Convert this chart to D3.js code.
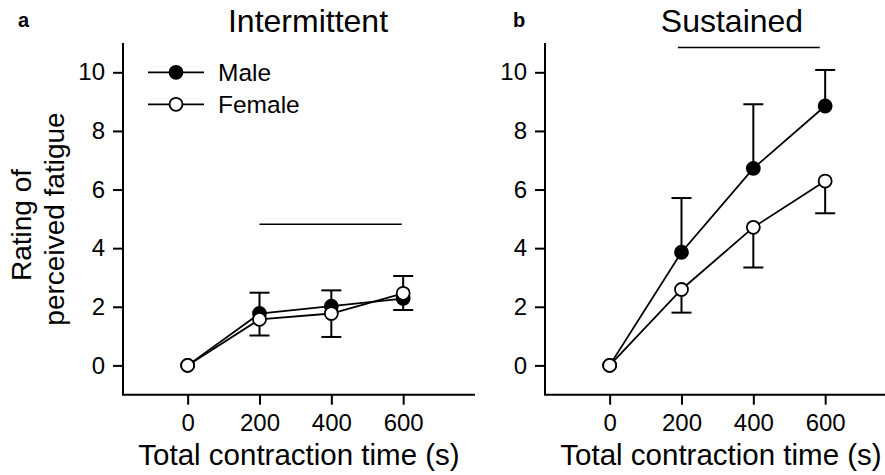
<!DOCTYPE html>
<html>
<head>
<meta charset="utf-8">
<script src="https://cdn.jsdelivr.net/npm/d3@7"></script>
<style>
  body { margin: 0; background: #fff; }
  svg { display: block; font-family: "Liberation Sans", Arial, sans-serif; }
  .axis path, .axis line { stroke: #000; stroke-width: 2; }
  .axis text { font-size: 24px; fill: #000; font-family: "Liberation Sans", Arial, sans-serif; }
</style>
</head>
<body>
<div id="chart"></div>
<script>
// time points (s)
const times = [0, 200, 400, 600]

// Intermittent
const intMale = [0, 1.77, 2.02, 2.28]
const intMaleSd = [0, 0.71, 0.54, -0.39]
const intFemale = [0, 1.57, 1.77, 2.46]
const intFemaleSd = [0, -0.55, -0.8, 0.59]
const intSigLine = [[200, 4.82], [596, 4.82]]

// Sustained
const susMale = [0, 3.86, 6.72, 8.85]
const susMaleSd = [0, 1.85, 2.19, 1.23]
const susFemale = [0, 2.59, 4.71, 6.29]
const susFemaleSd = [0, -0.79, -1.37, -1.1]
const susSigLine = [[190, 10.85], [585, 10.85]]

const xTicks = [0, 200, 400, 600]
const yTicks = [0, 2, 4, 6, 8, 10]
const legendLabels = ["Male", "Female"]

const width = 885
const height = 475

const svg = d3.select("#chart").append("svg")
    .attr("width", width)
    .attr("height", height)

const panels = [
  { letter: "a", title: "Intermittent", left: 123, right: 475, titleX: 308, letterX: 18,
    male: intMale, maleSd: intMaleSd, female: intFemale, femaleSd: intFemaleSd,
    sig: intSigLine, legend: true, yLabel: true },
  { letter: "b", title: "Sustained", left: 545, right: 897, titleX: 732, letterX: 513,
    male: susMale, maleSd: susMaleSd, female: susFemale, femaleSd: susFemaleSd,
    sig: susSigLine, legend: false, yLabel: false }
]

const plotTop = 43
const plotBottom = 394.7

const yScale = d3.scaleLinear()
  .domain([-1, 11])
  .range([plotBottom, plotTop])

panels.forEach(p => {
  const xScale = d3.scaleLinear()
    .domain([-180, 800])
    .range([p.left, p.right])

  const g = svg.append("g")

  // panel letter
  g.append("text")
      .attr("x", p.letterX)
      .attr("y", 27)
      .style("font-size", "20px")
      .style("font-weight", "bold")
      .text(p.letter)

  // title
  g.append("text")
      .attr("x", p.titleX)
      .attr("y", 32)
      .attr("text-anchor", "middle")
      .style("font-size", "32px")
      .text(p.title)

  // axes
  const yAxis = g.append("g")
      .attr("class", "axis")
      .attr("transform", `translate(${p.left},0)`)
      .call(d3.axisLeft(yScale).tickValues(yTicks).tickSizeInner(10).tickSizeOuter(0).tickPadding(8))
  yAxis.select(".domain").attr("d", `M0,${plotTop}V${plotBottom}`)

  const xAxis = g.append("g")
      .attr("class", "axis")
      .attr("transform", `translate(0,${plotBottom})`)
      .call(d3.axisBottom(xScale).tickValues(xTicks).tickSizeInner(10).tickSizeOuter(0).tickPadding(9))
  xAxis.select(".domain").attr("d", `M${p.left - 1},0H${p.right}`)

  g.append("text")
      .attr("x", (p.left + p.right) / 2)
      .attr("y", 465)
      .attr("text-anchor", "middle")
      .style("font-size", "29.5px")
      .text("Total contraction time (s)")

  if (p.yLabel) {
    const yl = g.append("text")
        .attr("transform", `rotate(-90)`)
        .attr("text-anchor", "middle")
        .style("font-size", "28px")
    yl.append("tspan").attr("x", -225).attr("y", 31).text("Rating of")
    yl.append("tspan").attr("x", -219).attr("y", 64).text("perceived fatigue")
  }

  // significance line
  g.append("line")
      .attr("x1", xScale(p.sig[0][0]))
      .attr("x2", xScale(p.sig[1][0]))
      .attr("y1", yScale(p.sig[0][1]))
      .attr("y2", yScale(p.sig[1][1]))
      .attr("stroke", "#000")
      .attr("stroke-width", 1.5)

  const series = [
    { values: p.male, sd: p.maleSd, fill: "#000" },
    { values: p.female, sd: p.femaleSd, fill: "#fff" }
  ]

  const line = d3.line()
    .x((d, i) => xScale(times[i]))
    .y(d => yScale(d))

  // error bars
  series.forEach(s => {
    const eb = g.append("g")
    times.forEach((t, i) => {
      if (s.sd[i] === 0) return
      const x = xScale(t)
      const yEnd = yScale(s.values[i] + s.sd[i])
      eb.append("line")
          .attr("x1", x).attr("x2", x)
          .attr("y1", yScale(s.values[i])).attr("y2", yEnd)
          .attr("stroke", "#000").attr("stroke-width", 2)
      eb.append("line")
          .attr("x1", x - 10).attr("x2", x + 10)
          .attr("y1", yEnd).attr("y2", yEnd)
          .attr("stroke", "#000").attr("stroke-width", 2)
    })
  })

  // lines
  series.forEach(s => {
    g.append("path")
        .attr("d", line(s.values))
        .attr("fill", "none")
        .attr("stroke", "#000")
        .attr("stroke-width", 1.8)
  })

  // markers, female drawn last
  series.forEach(s => {
    g.selectAll(null)
      .data(s.values)
      .join("circle")
        .attr("cx", (d, i) => xScale(times[i]))
        .attr("cy", d => yScale(d))
        .attr("r", 6.5)
        .attr("fill", s.fill)
        .attr("stroke", "#000")
        .attr("stroke-width", 1.8)
  })

  // legend
  if (p.legend) {
    const lg = g.append("g")
    const rows = [{ y: 72.3, fill: "#000" }, { y: 104.3, fill: "#fff" }]
    rows.forEach((r, i) => {
      lg.append("line")
          .attr("x1", 148).attr("x2", 204)
          .attr("y1", r.y).attr("y2", r.y)
          .attr("stroke", "#000").attr("stroke-width", 1.8)
      lg.append("circle")
          .attr("cx", 176).attr("cy", r.y).attr("r", 6.5)
          .attr("fill", r.fill).attr("stroke", "#000").attr("stroke-width", 1.8)
      lg.append("text")
          .attr("x", 218).attr("y", r.y + 9)
          .style("font-size", "24.5px")
          .text(legendLabels[i])
    })
  }
})
</script>
</body>
</html>
